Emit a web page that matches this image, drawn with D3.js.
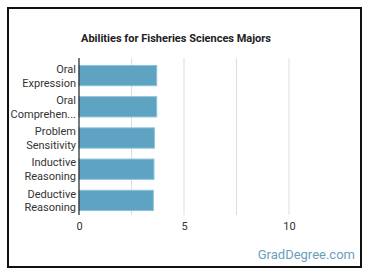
<!DOCTYPE html>
<html>
<head>
<meta charset="utf-8">
<script src="https://cdn.jsdelivr.net/npm/d3@7"></script>
<style>
  body { margin: 0; background: #fff; font-family: Roboto, sans-serif; }
</style>
</head>
<body>
<div id="chart"></div>
<script>
// chart data
var labels = [["Oral", "Expression"], ["Oral", "Comprehen..."], ["Problem", "Sensitivity"],
    ["Inductive", "Reasoning"], ["Deductive", "Reasoning"]];
var keys = ["Oral Expression", "Oral Comprehension", "Problem Sensitivity", "Inductive Reasoning", "Deductive Reasoning"];
var values = [3.7, 3.7, 3.59, 3.57, 3.54];
var tickValues = [0, 5, 10];
var gridValues = [0, 2.5, 5, 7.5, 10];

var width = 370, height = 278;

var svg = d3.select("#chart").append("svg")
    .attr("width", width)
    .attr("height", height);

// frame
svg.append("rect")
    .attr("x", 8).attr("y", 8)
    .attr("width", 353).attr("height", 259)
    .attr("fill", "#fff")
    .attr("stroke", "#111")
    .attr("stroke-width", 2);

svg.append("text")
    .attr("x", 176)
    .attr("y", 42)
    .attr("text-anchor", "middle")
    .attr("font-size", 11)
    .attr("font-weight", "bold")
    .attr("fill", "#222")
    .text("Abilities for Fisheries Sciences Majors");

var x = d3.scaleLinear()
    .domain([0, 12.5])
    .range([79, 341.5]);

var y = d3.scaleBand()
    .domain(keys)
    .range([60, 216])
    .paddingInner(0.35)
    .paddingOuter(0.175);

// grid lines
svg.append("g")
    .selectAll("line")
    .data(gridValues.slice(1))
    .enter().append("line")
    .attr("x1", function(d) { return x(d); })
    .attr("x2", function(d) { return x(d); })
    .attr("y1", 58)
    .attr("y2", 215)
    .attr("stroke", "#ddd")
    .attr("stroke-width", 1);

// bars
svg.append("g")
    .selectAll("rect")
    .data(values)
    .enter().append("rect")
    .attr("x", x(0))
    .attr("y", function(d, i) { return y(keys[i]); })
    .attr("width", function(d) { return x(d) - x(0); })
    .attr("height", y.bandwidth())
    .attr("fill", "#5ea3c1")
    .attr("stroke", "#8cc3da")
    .attr("stroke-width", 1);

// y axis line
svg.append("line")
    .attr("x1", x(0)).attr("x2", x(0))
    .attr("y1", 58).attr("y2", 215)
    .attr("stroke", "#222")
    .attr("stroke-width", 1.2);

// category labels
var lab = svg.append("g")
    .selectAll("text")
    .data(labels)
    .enter().append("text")
    .attr("text-anchor", "end")
    .attr("font-size", 11)
    .attr("fill", "#333")
    .attr("y", function(d, i) { return y(keys[i]) + y.bandwidth() / 2; });

lab.each(function(d) {
    var t = d3.select(this);
    t.append("tspan").attr("x", 76).attr("dy", "-0.25em").text(d[0]);
    t.append("tspan").attr("x", 76).attr("dy", "1.25em").text(d[1]);
});

// x tick labels
var xAxis = d3.axisBottom(x)
    .tickValues(tickValues)
    .tickSize(0)
    .tickPadding(0)
    .tickFormat(d3.format("d"));

var gx = svg.append("g")
    .attr("transform", "translate(0,222)")
    .call(xAxis);
gx.select(".domain").remove();
gx.selectAll("text")
    .attr("font-family", "Roboto, sans-serif")
    .attr("font-size", 11)
    .attr("fill", "#333");

svg.append("text")
    .attr("x", 355)
    .attr("y", 259)
    .attr("text-anchor", "end")
    .attr("font-size", 13)
    .attr("fill", "#6a9fba")
    .text("GradDegree.com");
</script>
</body>
</html>
